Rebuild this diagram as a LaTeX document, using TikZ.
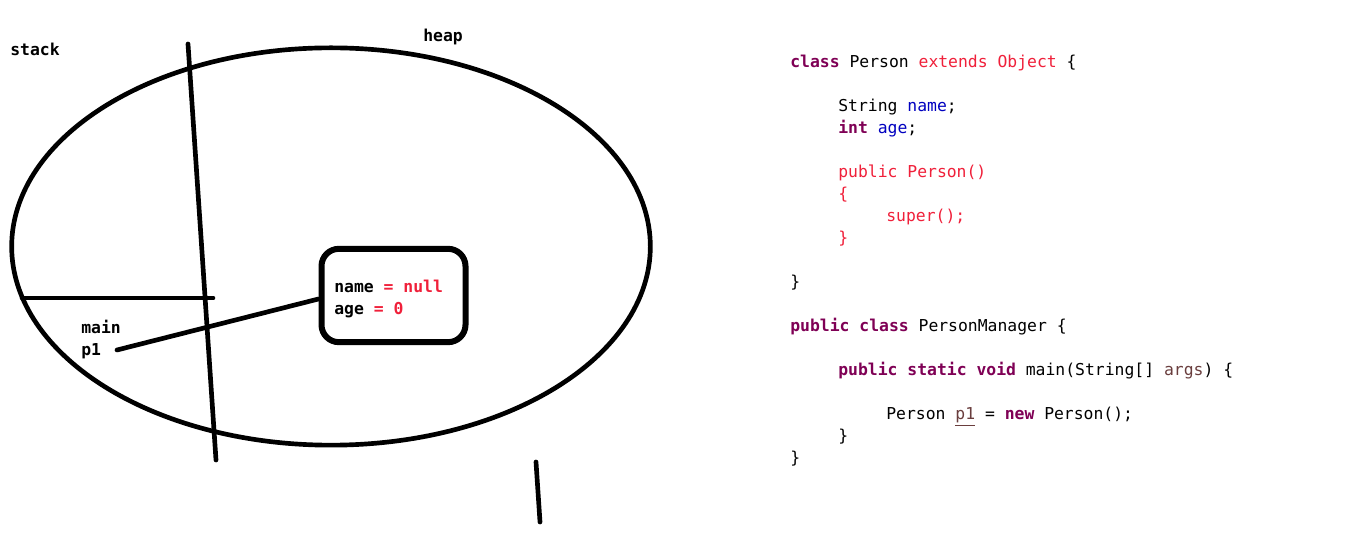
\documentclass[tikz,border=0pt]{standalone}
\usepackage{fontspec}
\setmonofont{DejaVu Sans Mono}
\usetikzlibrary{calc}
\definecolor{kwd}{HTML}{7F0055}
\definecolor{hot}{HTML}{F0203A}
\definecolor{fld}{HTML}{0000C0}
\definecolor{prm}{HTML}{6A3E3E}
\newcommand{\kwd}[1]{\textcolor{kwd}{\bfseries #1}}
\newcommand{\hot}[1]{\textcolor{hot}{#1}}
\newcommand{\fld}[1]{\textcolor{fld}{#1}}
\begin{document}
\begin{tikzpicture}[x=0.75pt,y=-0.75pt,
    code/.style={font=\ttfamily\fontsize{12.3}{14}\selectfont, inner sep=0pt, anchor=base west},
    lbl/.style={code, font=\ttfamily\bfseries\fontsize{12.3}{14}\selectfont},
    pen/.style={line width=3.5pt, line cap=round}]
        \fill[white] (0,0) rectangle (1350,555);
        \useasboundingbox (0,0) rectangle (1350,555);
        % heap
        \draw[pen] (331,246.5) ellipse [x radius=239.5pt, y radius=149pt];
        \coordinate (divtop) at (188,44);
        \coordinate (divbot) at (216,460);
        \coordinate (frameL) at (22,298);
        \coordinate (frameR) at (213,298);
        \coordinate (tickA) at (536,462);
        \coordinate (tickB) at (540,522);
        \coordinate (p1ref) at (117,350);
        \foreach \m/\n in {divtop/divbot,frameL/frameR,tickA/tickB}{
            \draw[pen] (\m) -- (\n);
        }
        \foreach \x/\y/\n/\l in {10/55.5/stack/stack,423/42/heap/heap,81/333.5/main/main,81/355.5/p1/p1}{
            \node[lbl] (\n) at (\x,\y) {\l};
        }
        % object
        \node[draw, line width=4.5pt, rounded corners=13pt, minimum width=108pt, minimum height=70pt] (obj) at (393.5,295.5) {};
        \node[lbl] (fname) at (334,292.5) {name \hot{= null}};
        \node[lbl] (fage) at (334,314.5) {age \hot{= 0}};
        \draw[pen] (p1ref) -- ($(obj.west)+(0,3.5)$);
        % code
        \foreach \x/\y/\n/\l in {
            790/68/c1/{\kwd{class} Person \hot{extends Object} \{},
            838/112/c2/{String \fld{name};},
            838/134/c3/{\kwd{int} \fld{age};},
            838/178/c4/{\hot{public Person()}},
            838/200/c5/{\hot{\{}},
            886/222/c6/{\hot{super();}},
            838/244/c7/{\hot{\}}},
            790/288/c8/{\}},
            790/332/c9/{\kwd{public} \kwd{class} PersonManager \{},
            838/376/c10/{\kwd{public} \kwd{static} \kwd{void} main(String[] \textcolor{prm}{args}) \{},
            886/420/c11/{Person \textcolor{prm}{\underline{p1}} = \kwd{new} Person();},
            838/442/c12/{\}},
            790/464/c13/{\}}}{
            \node[code] (\n) at (\x,\y) {\l};
        }
    \end{tikzpicture}
\end{document}
